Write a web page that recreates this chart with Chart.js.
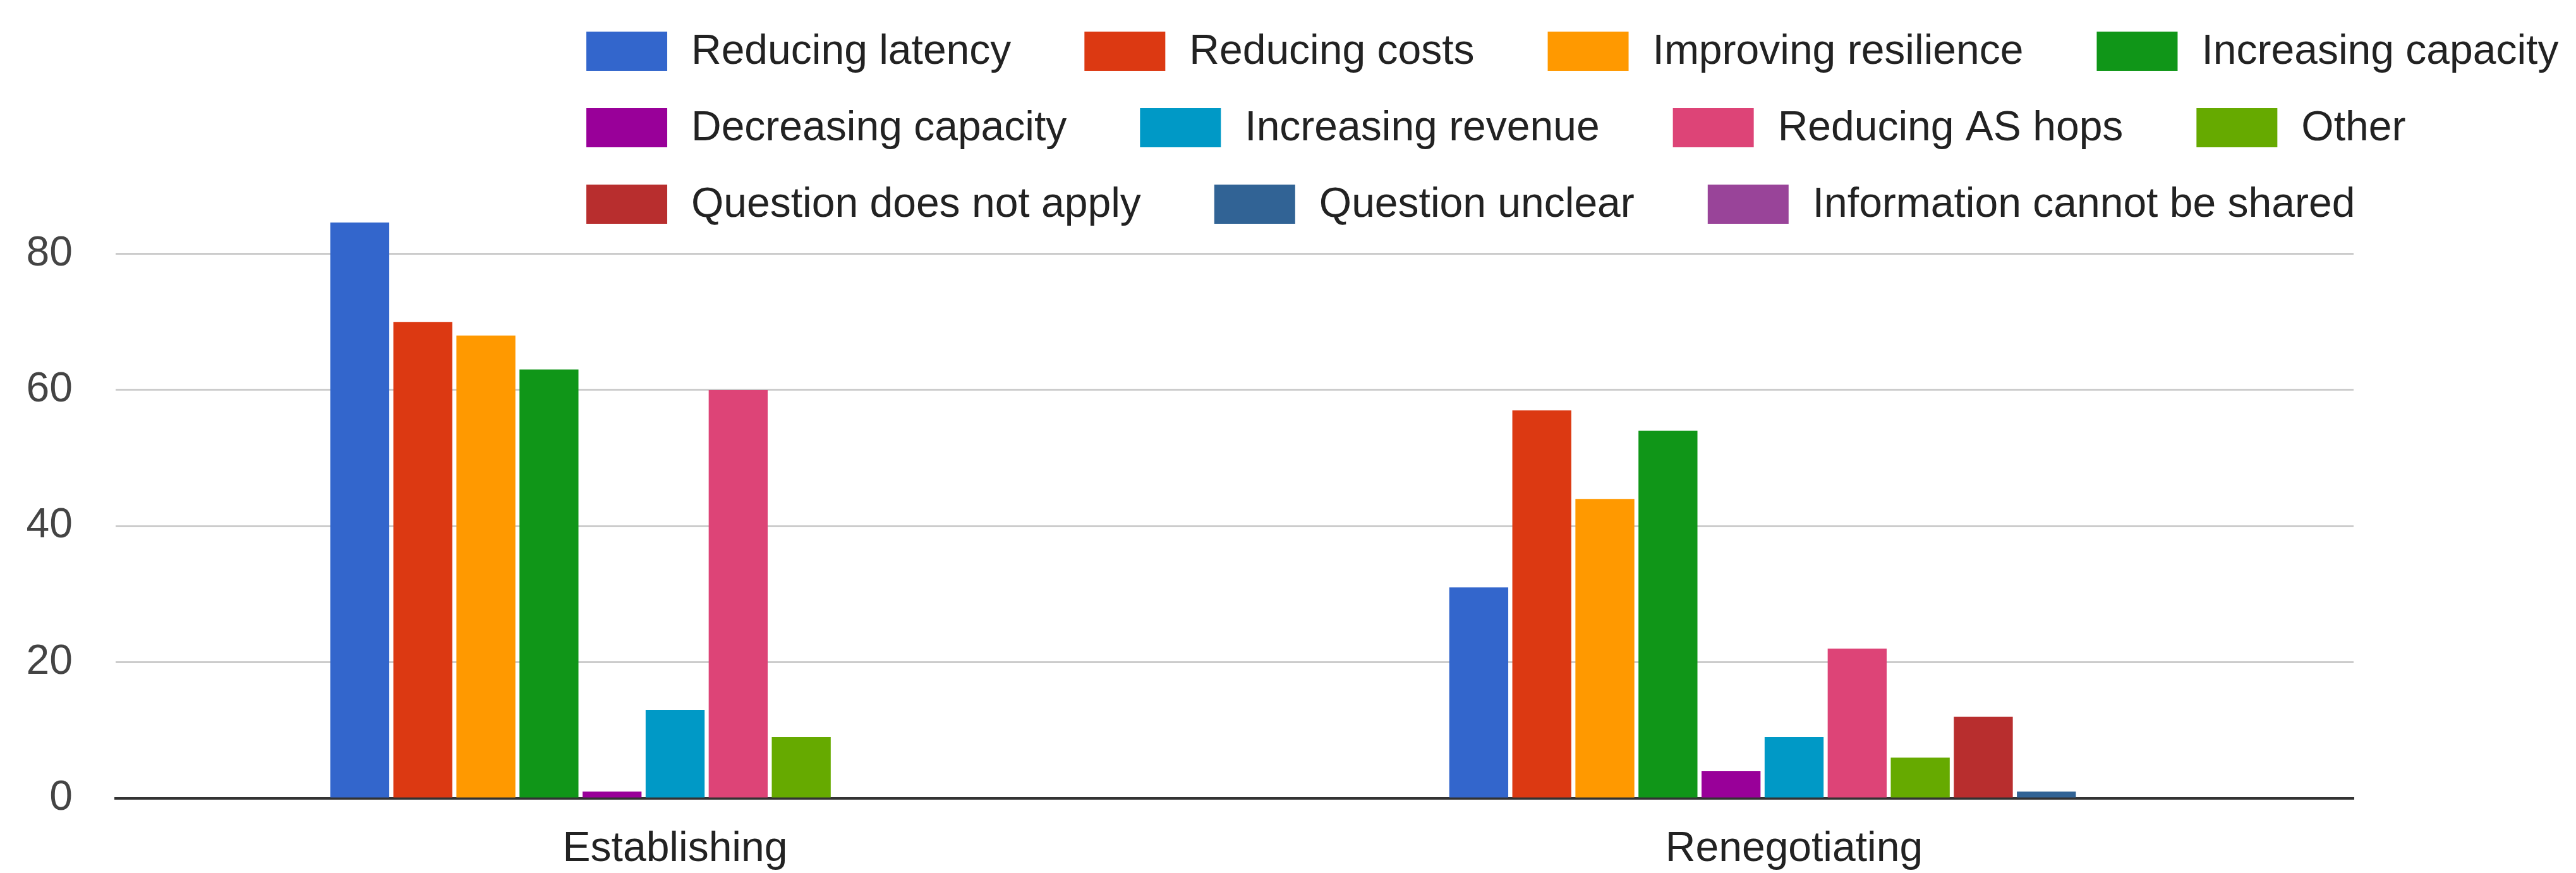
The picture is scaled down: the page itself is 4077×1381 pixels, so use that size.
<!DOCTYPE html>
<html>
<head>
<meta charset="utf-8">
<title>Reasons for establishing and renegotiating</title>
<script src="https://cdn.jsdelivr.net/npm/chart.js@4.4.1/dist/chart.umd.min.js"></script>
<style>
  html, body { margin: 0; padding: 0; background: #ffffff; }
  canvas { display: block; }
</style>
</head>
<body>
<canvas id="chart" width="4077" height="1381"></canvas>
<script>
// Categories on the x axis
const categories = ['Establishing', 'Renegotiating'];

// Series names (one bar per series in every category)
const seriesNames = [
  'Reducing latency', 'Reducing costs', 'Improving resilience', 'Increasing capacity',
  'Decreasing capacity', 'Increasing revenue', 'Reducing AS hops', 'Other',
  'Question does not apply', 'Question unclear', 'Information cannot be shared'
];

// Values per series: [Establishing, Renegotiating]
const reducingLatency      = [85, 31];
const reducingCosts        = [70, 57];
const improvingResilience  = [68, 44];
const increasingCapacity   = [63, 54];
const decreasingCapacity   = [1, 4];
const increasingRevenue    = [13, 9];
const reducingAsHops       = [60, 22];
const other                = [9, 6];
const questionNotApply     = [0, 12];
const questionUnclear      = [0, 1];
const cannotBeShared       = [0, 0];

const seriesValues = [
  reducingLatency, reducingCosts, improvingResilience, increasingCapacity,
  decreasingCapacity, increasingRevenue, reducingAsHops, other,
  questionNotApply, questionUnclear, cannotBeShared
];

// Value axis ticks
const yTicks = [0, 20, 40, 60, 80];

const seriesColors = [
  '#3366cc', '#dc3912', '#ff9900', '#109618', '#990099', '#0099c6',
  '#dd4477', '#66aa00', '#b82e2e', '#316395', '#994499'
];

const FONT = '"Liberation Sans", Arial, sans-serif';

// Legend drawn as wrapped rows, left-aligned at a fixed start
const flowLegend = {
  id: 'flowLegend',
  afterDraw(chart, args, opts) {
    const ctx = chart.ctx;
    ctx.save();
    ctx.font = opts.fontSize + 'px ' + FONT;
    ctx.textBaseline = 'middle';
    ctx.textAlign = 'left';
    let x = opts.startX;
    let row = 0;
    chart.data.datasets.forEach((ds) => {
      const tw = ctx.measureText(ds.label).width;
      const itemW = opts.boxW + opts.textGap + tw;
      if (x !== opts.startX && x + itemW > opts.maxRight) {
        row += 1;
        x = opts.startX;
      }
      const cy = opts.firstRowY + row * opts.rowStep;
      ctx.fillStyle = ds.backgroundColor;
      ctx.fillRect(x, cy - opts.boxH / 2, opts.boxW, opts.boxH);
      ctx.fillStyle = opts.color;
      ctx.fillText(ds.label, x + opts.boxW + opts.textGap, cy + 2);
      x += itemW + opts.itemGap;
    });
    ctx.restore();
  }
};

new Chart(document.getElementById('chart'), {
  type: 'bar',
  data: {
    labels: categories,
    datasets: seriesNames.map((name, i) => ({
      label: name,
      data: seriesValues[i],
      backgroundColor: seriesColors[i],
      borderWidth: 0,
      barPercentage: 0.935,
      categoryPercentage: 0.62
    }))
  },
  plugins: [flowLegend],
  options: {
    responsive: false,
    animation: false,
    layout: { padding: { left: 42, right: 352, top: 352, bottom: 0 } },
    plugins: {
      legend: { display: false },
      tooltip: { enabled: false },
      flowLegend: {
        fontSize: 66, color: '#222222',
        startX: 928, maxRight: 4077,
        firstRowY: 81, rowStep: 121,
        boxW: 128, boxH: 62, textGap: 38, itemGap: 116
      }
    },
    scales: {
      x: {
        z: 1,
        afterFit(scale) { scale.height = 118; },
        grid: { display: false },
        border: { display: true, color: '#333333', width: 4 },
        ticks: {
          font: { family: FONT, size: 66 },
          color: '#222222',
          padding: 33,
          maxRotation: 0
        }
      },
      y: {
        min: 0,
        max: 84.6,
        afterBuildTicks(scale) {
          scale.ticks = yTicks.map(v => ({ value: v }));
        },
        afterFit(scale) { scale.width = 141; },
        grid: {
          drawTicks: false,
          lineWidth: 3,
          color: (c) => (c.tick && c.tick.value === 0) ? 'rgba(0,0,0,0)' : '#cccccc'
        },
        border: { display: false },
        ticks: {
          font: { family: FONT, size: 66 },
          color: '#444444',
          padding: 68
        }
      }
    }
  }
});
</script>
</body>
</html>
